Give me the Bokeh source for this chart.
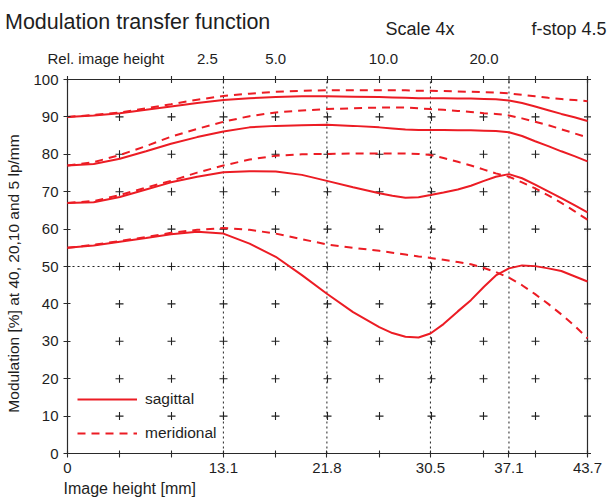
import math
import numpy as np
from bokeh.plotting import figure
from bokeh.models import LinearAxis, FixedTicker, Range1d, Legend, LegendItem
from bokeh.core.properties import value
from bokeh.embed import file_html
from bokeh.resources import INLINE

# ---------------- data ----------------
X = [0, 2.2, 4.4, 6.6, 8.7, 10.9, 13.1, 15.3, 17.5, 19.7, 21.8, 24.0, 26.2,
     27.3, 28.4, 29.5, 30.5, 31.6, 32.8, 33.9, 35.0, 36.0, 37.1, 38.2, 39.3,
     40.4, 41.5, 42.6, 43.7]

# 5 lp/mm
S5 = [90.0, 90.4, 91.0, 91.9, 92.8, 93.7, 94.5, 95.0, 95.3, 95.5, 95.5, 95.4, 95.3,
      95.2, 95.1, 95.0, 95.0, 95.0, 94.9, 94.9, 94.8, 94.7, 94.4, 93.7, 92.8,
      91.8, 90.8, 89.9, 88.9]
M5 = [90.0, 90.5, 91.2, 92.3, 93.4, 94.6, 95.6, 96.2, 96.7, 97.0, 97.1, 97.1, 97.1,
      97.1, 97.1, 97.0, 97.0, 96.9, 96.8, 96.7, 96.6, 96.5, 96.3, 95.9, 95.5,
      95.1, 94.8, 94.5, 94.2]
# 10 lp/mm
S10 = [77.0, 77.4, 78.8, 80.8, 82.8, 84.6, 86.1, 87.2, 87.6, 87.8, 87.9, 87.6, 87.2,
       86.9, 86.6, 86.5, 86.5, 86.5, 86.4, 86.4, 86.3, 86.2, 85.9, 84.9, 83.5,
       82.2, 80.8, 79.5, 78.1]
M10 = [77.0, 77.9, 79.8, 82.2, 84.7, 86.8, 88.7, 90.2, 91.2, 91.7, 92.1, 92.3, 92.5,
       92.5, 92.5, 92.3, 92.1, 91.9, 91.6, 91.3, 91.0, 90.8, 90.4, 89.6, 88.7,
       87.8, 86.7, 85.6, 84.5]
# 20 lp/mm
S20 = [67.0, 67.2, 68.6, 70.6, 72.5, 74.0, 75.2, 75.5, 75.4, 74.5, 72.9, 71.2, 69.6,
       68.9, 68.4, 68.5, 69.1, 69.8, 70.6, 71.6, 72.9, 74.0, 74.7, 73.6, 71.9,
       70.1, 68.3, 66.4, 64.5]
M20 = [67.0, 67.5, 69.1, 71.1, 72.9, 75.1, 77.0, 78.6, 79.6, 80.0, 80.1, 80.2, 80.2,
       80.2, 80.2, 80.1, 79.8, 79.0, 78.0, 77.0, 75.9, 74.9, 74.0, 72.5, 70.9,
       69.0, 67.0, 64.8, 62.5]
# 40 lp/mm
S40 = [55.0, 55.6, 56.6, 57.6, 58.6, 59.3, 58.8, 56.1, 52.6, 47.7, 42.7, 37.8, 33.8,
       32.2, 31.2, 31.0, 32.1, 34.6, 38.0, 41.0, 44.6, 47.6, 49.5, 50.3, 50.1,
       49.5, 48.8, 47.4, 46.0]
M40 = [55.0, 55.8, 56.8, 57.9, 59.0, 59.8, 60.3, 59.8, 58.8, 57.3, 55.9, 55.0, 54.2,
       53.7, 53.2, 52.7, 52.3, 51.8, 51.2, 50.6, 49.6, 48.5, 47.0, 45.0, 42.6,
       40.0, 37.2, 34.2, 30.8]

SAGITTAL = [S5, S10, S20, S40]
MERIDIONAL = [M5, M10, M20, M40]

X_LABELED_TICKS = [0, 13.1, 21.8, 30.5, 37.1, 43.7]
X_TICK_LABELS = ["0", "13.1", "21.8", "30.5", "37.1", "43.7"]
X_MINOR_TICKS = [4.37, 8.74, 17.48, 26.22, 34.96, 39.33]
GRID_X = [4.37, 8.74, 13.11, 17.48, 21.85, 26.22, 30.59, 34.96, 39.33]
Y_TICKS = [0, 10, 20, 30, 40, 50, 60, 70, 80, 90, 100]
GRID_Y = [10, 20, 30, 40, 50, 60, 70, 80, 90]
REF_X = [13.1, 21.8, 30.5, 37.1]
REF_Y = [50]
REL_POS = [11.75, 17.5, 26.55, 35.0]
REL_LABELS = ["2.5", "5.0", "10.0", "20.0"]
X_MAX = 43.7
Y_MAX = 100

TITLE = "Modulation transfer function"
SCALE = "Scale 4x"
FSTOP = "f-stop 4.5"
REL_TITLE = "Rel. image height"
X_TITLE = "Image height [mm]"
Y_TITLE = "Modulation [%] at 40, 20,10 and 5 lp/mm"

# ---------------- layout (canvas pixels) ----------------
W, H = 608, 500
FL, FR, FT, FB = 67, 587, 79, 453     # plot box inside the canvas
FONT = "Liberation Sans"
TXT = "#1e1e1e"
RED = "#ec1c24"
AX = "#2a2a2a"


def cx2x(cx):
    return (cx - FL) / (FR - FL) * X_MAX


def cy2y(cy):
    return (FB - cy) / (FB - FT) * Y_MAX


# the frame fills the whole canvas; the axes are pinned to the plot box
p = figure(width=W, height=H, x_range=Range1d(cx2x(0), cx2x(W)),
           y_range=Range1d(cy2y(H), cy2y(0)), output_backend="svg",
           toolbar_location=None, x_axis_location=None, y_axis_location=None,
           min_border=0)
p.outline_line_color = None
p.xgrid.visible = False
p.ygrid.visible = False


def style_axis(ax):
    ax.axis_line_color = None
    ax.major_tick_line_color = AX
    ax.minor_tick_line_color = AX
    ax.major_tick_line_width = 1.1
    ax.minor_tick_line_width = 1.1
    ax.major_tick_in = 3
    ax.major_tick_out = 4
    ax.minor_tick_in = 3
    ax.minor_tick_out = 4
    ax.major_label_text_font = FONT
    ax.major_label_text_font_size = "15px"
    ax.major_label_text_color = TXT


xb = LinearAxis(ticker=FixedTicker(ticks=X_LABELED_TICKS, minor_ticks=X_MINOR_TICKS),
                fixed_location=0, bounds=(0, X_MAX))
style_axis(xb)
xb.major_label_overrides = {t: s for t, s in zip(X_LABELED_TICKS, X_TICK_LABELS)}
xb.major_label_standoff = 5
p.add_layout(xb, "below")

yl = LinearAxis(ticker=FixedTicker(ticks=Y_TICKS), fixed_location=0, bounds=(0, Y_MAX))
style_axis(yl)
yl.major_label_standoff = 5
p.add_layout(yl, "left")

# plot box
p.quad(left=[0], right=[X_MAX], bottom=[0], top=[Y_MAX], fill_color=None,
       line_color=AX, line_width=1.2)

# ticks on the top and right edges of the box
top_ticks = [0] + GRID_X + [37.1, X_MAX]
p.scatter(top_ticks, [Y_MAX] * len(top_ticks), marker="cross", size=7,
          line_color=AX, line_width=1.1)
p.scatter([X_MAX] * len(Y_TICKS), Y_TICKS, marker="cross", size=7,
          line_color=AX, line_width=1.1)

# dotted reference lines
p.segment(x0=REF_X, y0=[0] * len(REF_X), x1=REF_X, y1=[Y_MAX] * len(REF_X),
          line_color="#222222", line_width=1, line_dash="2 3")
p.segment(x0=[0] * len(REF_Y), y0=REF_Y, x1=[X_MAX] * len(REF_Y), y1=REF_Y,
          line_color="#222222", line_width=1, line_dash="2 3")

# grid "+" marks
gx, gy = np.meshgrid(GRID_X, GRID_Y)
p.scatter(gx.ravel(), gy.ravel(), marker="cross", size=8, line_color="#222222",
          line_width=1.1)

# curves
sag_r = [p.line(X, s, line_color=RED, line_width=2) for s in SAGITTAL]
mer_r = [p.line(X, m, line_color=RED, line_width=2, line_dash="8 6") for m in MERIDIONAL]

legend = Legend(items=[LegendItem(label="sagittal", renderers=[sag_r[0]]),
                       LegendItem(label="meridional", renderers=[mer_r[0]])],
                location=(77, 57), orientation="vertical", glyph_width=60,
                glyph_height=20, label_height=20, label_standoff=8, spacing=14,
                padding=0, margin=0, background_fill_alpha=0,
                border_line_color=None, label_text_font=FONT,
                label_text_font_size="15.5px", label_text_color=TXT)
p.add_layout(legend, "center")


def put_text(xs, ys, texts, size, align="left", angle=0.0):
    p.text(x=xs, y=ys, text=texts, text_font=value(FONT), text_font_size=value(size),
           text_color=TXT, text_align=align, text_baseline="alphabetic", angle=angle)


put_text([cx2x(4.5)], [cy2y(21)], [TITLE], "21.5px")
put_text([cx2x(385)], [cy2y(28)], [SCALE], "18px")
put_text([cx2x(606)], [cy2y(28)], [FSTOP], "18px", align="right")
put_text([cx2x(47)], [cy2y(58)], [REL_TITLE], "15px")
put_text(REL_POS, [cy2y(58)] * len(REL_POS), REL_LABELS, "15px", align="center")
put_text([cx2x(63)], [cy2y(488)], [X_TITLE], "16px")
put_text([cx2x(13)], [cy2y(273)], [Y_TITLE], "15.5px", align="center",
         angle=math.pi / 2)

open("out.html", "w").write(file_html(p, INLINE))
